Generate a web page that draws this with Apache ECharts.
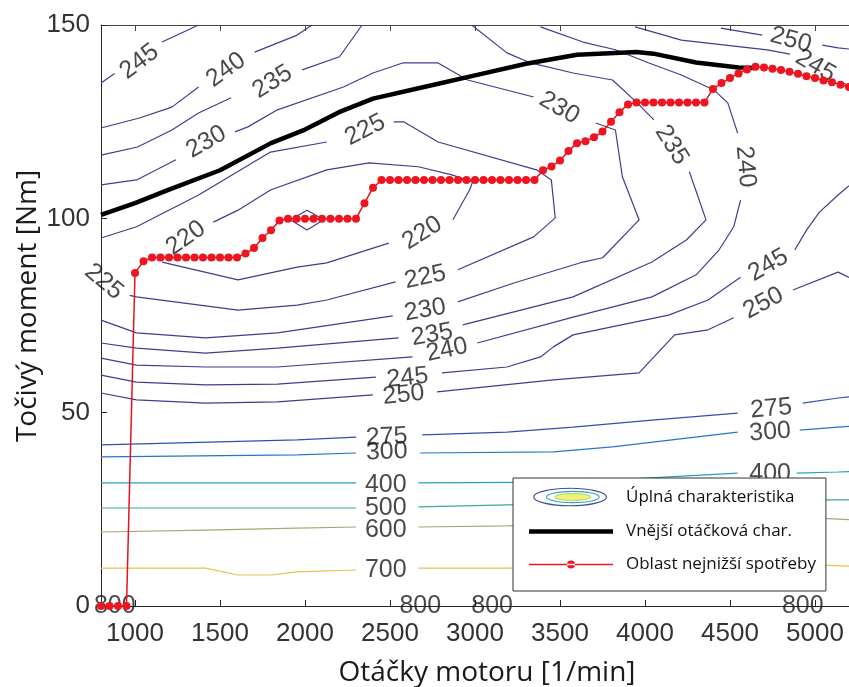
<!DOCTYPE html>
<html><head><meta charset="utf-8">
<script src="https://cdn.jsdelivr.net/npm/echarts@6/dist/echarts.min.js"></script>
<style>html,body{margin:0;padding:0;background:#fff}#c{width:849px;height:687px}</style>
</head><body><div id="c"></div>
<script>
// ---- axis ticks ----
const xTicks = [1000,1500,2000,2500,3000,3500,4000,4500,5000];
const yTicks = [0,50,100,150];

// ---- contour lines: segments of [rpm, Nm] (gaps where labels sit) ----
const c220 = [
  [[1461,99.1],[1606,102.2],[1797,107.4],[2128,112.6],[2377,114.4],[2667,113.4],[2864,111.3],[2986,109.5],[2968,107.4],[2870,99.7]],
  [[2493,93.7],[2128,88.6],[1954,87.5],[1606,84.2],[1159,88.8]],
  [[1913,99.7],[2012,102.2],[2110,99.7],[2012,97.1],[1913,99.7]]
];
const c225 = [
  [[800,95.0],[1009,97.9],[1374,106.1],[1797,117.2],[2128,119.8]],
  [[2522,125.0],[2580,125.0],[2783,119.8],[3362,112.6],[3449,110.0],[3472,100.2],[3345,95.3],[2899,86.8]],
  [[2533,83.7],[2128,79.0],[1954,77.7],[1606,76.4],[1009,79.8],[968,80.2]]
];
const c230 = [
  [[800,108.7],[1009,110.0],[1241,115.2]],
  [[1588,122.4],[1664,123.7],[1838,128.1],[2226,134.0],[2400,137.6],[2574,140.2],[2783,140.2],[2957,135.8],[3345,131.4]],
  [[3710,124.7],[3826,122.9],[3867,110.8],[3965,99.7],[3751,89.9],[3635,88.8],[3229,83.4],[2899,78.5]],
  [[2516,74.9],[1838,70.5],[1414,69.2],[1009,70.5],[800,73.8]]
];
const c235 = [
  [[800,116.4],[1015,118.5],[1217,122.9],[1374,127.3],[1565,131.2]],
  [[1983,138.4],[2203,141.8],[2336,150]],
  [[2980,150],[3188,142.8],[3327,140.2],[3577,137.6],[3809,135.8],[3954,129.9],[4052,125.5]],
  [[4261,112.1],[4359,99.7],[4243,94.5],[4041,88.8],[3577,79.8],[2928,72.6]],
  [[2551,69.2],[1838,66.6],[1414,65.3],[1009,66.6],[800,67.9]]
];
const c240 = [
  [[800,123.4],[1026,126.0],[1217,128.8],[1374,134.0]],
  [[1704,143.0],[1954,147.4],[2041,150]],
  [[3385,149.5],[3635,145.6],[3826,143.6],[4023,140.2],[4214,137.1],[4406,133.2],[4487,129.9],[4545,122.1]],
  [[4562,104.8],[4522,97.9],[4435,91.9],[4301,85.5],[4041,79.8],[3577,74.6],[3014,67.9]],
  [[2632,64.3],[1838,61.7],[1414,61.7],[1009,62.2],[800,64.0]]
];
const c245 = [
  [[800,135.0],[880,137.5]],
  [[1159,145.6],[1374,150]],
  [[3942,149.5],[4214,146.1],[4719,143.6],[4853,142.5]],
  [[5136,135.3],[5200,134.5]],
  [[5200,108.5],[5136,106.1],[5026,101.7],[4951,97.1],[4881,91.9]],
  [[4562,84.9],[4371,79.0],[4139,75.1],[3577,70.0],[3461,66.9],[3385,64.3],[3188,61.7],[2806,60.2]],
  [[2417,59.1],[1838,57.3],[1414,57.1],[1009,57.8],[800,59.6]]
];
const c250 = [
  [[4446,149.2],[4690,147.4]],
  [[5043,144.8],[5136,144.1],[5200,143.8]],
  [[5200,84.8],[5136,86.2],[4870,81.6]],
  [[4522,74.4],[4371,71.3],[4174,70.0],[3965,60.2],[3461,58.4],[2777,55.3]],
  [[2400,54.5],[1838,52.7],[1414,52.4],[1009,53.2],[800,55.0]]
];
const c275 = [
  [[800,41.6],[1954,42.9],[2301,43.6]],
  [[2690,44.2],[3188,44.9],[3577,46.2],[4041,48.0],[4545,49.8]],
  [[4928,52.4],[5136,53.7],[5200,54.0]]
];
const c300 = [
  [[800,38.5],[1954,39.0],[2301,39.5]],
  [[2678,39.5],[3461,39.8],[3809,41.1],[4545,44.9]],
  [[4910,45.4],[5136,46.2],[5200,46.4]]
];
const c400 = [
  [[800,31.8],[2301,31.8]],
  [[2667,31.8],[3577,32.0],[4545,34.3]],
  [[4893,34.3],[5136,34.6],[5200,34.7]]
];
const c500 = [
  [[800,25.3],[2301,25.3]],
  [[2667,25.6],[3188,26.1],[5014,27.4],[5200,27.4]]
];
const c600 = [
  [[800,19.1],[1414,19.6],[1954,20.1],[2301,20.4]],
  [[2667,20.4],[3188,20.7],[5014,22.7],[5200,22.3]]
];
const c700 = [
  [[800,9.8],[1414,9.8],[1606,8.0],[1797,8.0],[1954,8.8],[2301,9.3]],
  [[2667,9.8],[3188,9.8],[5014,10.6],[5200,10.3]]
];

// ---- contour labels: [rpm, Nm, text] and their angles ----
const contourLabels = [
  [1026,140.5,'245'],[1536,138.4,'240'],[1809,135.3,'235'],[1420,119.8,'230'],[2354,122.9,'225'],
  [1299,95.0,'220'],[2690,96.3,'220'],[817,83.7,'225'],[2707,84.9,'225'],[2707,76.4,'230'],
  [2748,70.0,'235'],[2835,66.1,'240'],[2603,58.9,'245'],[2580,54.5,'250'],[2481,43.6,'275'],
  [2481,39.8,'300'],[2475,31.2,'400'],[2475,25.3,'500'],[2475,19.6,'600'],[2475,9.3,'700'],
  [3496,128.6,'230'],[4157,119.0,'235'],[4591,113.4,'240'],[4858,146.1,'250'],[5003,139.4,'245'],
  [4725,88.0,'245'],[4696,78.2,'250'],[4742,50.9,'275'],[4736,44.9,'300'],[4736,34.1,'400'],
  [881,0,'800'],[2678,0,'800'],[3101,0,'800'],[4928,0,'800']
];
const labelAngles = [
  37,36,32,30,27,
  35,32,-40,12,10,
  10,12,6,6,3,
  2,0,0,0,0,
  -30,-58,-85,-15,-30,
  30,28,5,4,0,
  0,0,0,0
];

// ---- full-load curve ----
const blackLine = [[800,101],[1000,104],[1200,107.5],[1500,112.5],[1800,119.5],[2000,123],[2200,127.5],[2400,131],
  [2700,134],[3000,137],[3300,140],[3600,142.3],[3950,143],[4050,142.6],[4300,140.3],[4550,139],[4650,138.9]];

// ---- lowest consumption region ----
const redLine = [[800,0],[850,0],[900,0],[950,0],[1000,86],[1050,89],[1100,90],[1150,90],[1200,90],[1250,90],[1300,90],
  [1350,90],[1400,90],[1450,90],[1500,90],[1550,90],[1600,90],[1650,91],[1700,92.4],[1750,95],[1800,97],[1850,99.5],
  [1900,100],[1950,100],[2000,100],[2050,100],[2100,100],[2150,100],[2200,100],[2250,100],[2300,100],[2350,104],
  [2400,108],[2450,110],[2500,110],[2550,110],[2600,110],[2650,110],[2700,110],[2750,110],[2800,110],[2850,110],
  [2900,110],[2950,110],[3000,110],[3050,110],[3100,110],[3150,110],[3200,110],[3250,110],[3300,110],[3350,110],
  [3400,112.5],[3450,113.5],[3500,115],[3550,117.5],[3600,119.5],[3650,120],[3700,121],[3750,122.5],[3800,125],
  [3850,127.5],[3900,129.5],[3950,130],[4000,130],[4050,130],[4100,130],[4150,130],[4200,130],[4250,130],[4300,130],
  [4350,130],[4400,133.5],[4450,135],[4500,136.3],[4550,137.5],[4600,138.5],[4650,139.2],[4700,139],[4750,138.7],
  [4800,138.4],[4850,137.9],[4900,137.4],[4950,136.8],[5000,136.3],[5050,135.7],[5100,135.2],[5150,134.6],[5200,134]];

const legendNames = ['Úplná charakteristika','Vnější otáčková char.','Oblast nejnižší spotřeby'];

// ---- build ----
function joinSegs(segs){
  const out=[];
  segs.forEach((s,i)=>{ if(i) out.push(['-','-']); s.forEach(p=>out.push(p)); });
  return out;
}
const contourDefs = [
  [c220,'#3f3d8e'],[c225,'#3f3d8e'],[c230,'#3f3d8e'],[c235,'#3f3d8e'],[c240,'#3f3d8e'],[c245,'#3f3d8e'],[c250,'#3f3d8e'],
  [c275,'#2d50b4'],[c300,'#2a72d2'],[c400,'#24a0c2'],[c500,'#38aa9c'],[c600,'#a6a870'],[c700,'#e6c24a']
];
const series = contourDefs.map(([segs,col])=>({
  type:'line', name:legendNames[0], data:joinSegs(segs), symbol:'none', connectNulls:false,
  lineStyle:{color:col,width:1.2}, itemStyle:{color:col}, silent:true, z:2
}));
series.push({
  type:'scatter', name:'labels', symbolSize:0, silent:true, z:3,
  data: contourLabels.map((l,i)=>({value:[l[0],l[1]], label:{formatter:l[2], rotate:labelAngles[i]}})),
  label:{show:true, position:'inside', fontSize:25, fontFamily:'Liberation Sans', color:'#1a1a1a'}
});
series.push({
  type:'line', name:legendNames[1], data:blackLine, symbol:'none',
  lineStyle:{color:'#000',width:4.5}, itemStyle:{color:'#000'}, z:4
});
series.push({
  type:'line', name:legendNames[2], data:redLine, symbol:'circle', symbolSize:8, showSymbol:true,
  lineStyle:{color:'#e8121c',width:1.5}, itemStyle:{color:'#ee1420'}, z:5
});

const iconSvg = '<svg xmlns="http://www.w3.org/2000/svg" width="84" height="22" viewBox="0 0 84 22">'+
  '<ellipse cx="41" cy="11" rx="40" ry="9.6" fill="none" stroke="#3e4ea0" stroke-width="1.3"/>'+
  '<ellipse cx="44" cy="11" rx="29" ry="6.2" fill="none" stroke="#30a0c8" stroke-width="1.3"/>'+
  '<ellipse cx="44" cy="11" rx="20" ry="3.8" fill="#eef27a" stroke="#a8cc60" stroke-width="1"/></svg>';
const iconUrl = 'image://data:image/svg+xml;charset=utf-8,' + encodeURIComponent(iconSvg);
const blackIcon = 'path://M0,0h84v4.5h-84z';
const redIcon = 'path://M0,3.25h84v1.5h-84z M46,4a4,4 0 1,0 -8,0a4,4 0 1,0 8,0z';

const chart = echarts.init(document.getElementById('c'), null, {renderer:'canvas'});
chart.setOption({
  animation:false,
  backgroundColor:'#fff',
  grid:{left:101, top:25, width:759, height:581, containLabel:false},
  xAxis:[{
    type:'value', min:800, max:5200, position:'bottom',
    axisLine:{show:true, onZero:false, lineStyle:{color:'#262626', width:1}},
    axisTick:{show:true, inside:true, length:6, customValues:xTicks, lineStyle:{color:'#262626'}},
    axisLabel:{customValues:xTicks, margin:15, fontSize:26, fontFamily:'Liberation Sans', color:'#333', formatter:v=>String(v)},
    splitLine:{show:false}
  },{
    type:'value', min:800, max:5200, position:'top',
    axisLine:{show:true, onZero:false, lineStyle:{color:'#444', width:1}},
    axisTick:{show:true, inside:true, length:6, customValues:xTicks, lineStyle:{color:'#444'}},
    axisLabel:{show:false}, splitLine:{show:false}
  }],
  yAxis:{
    type:'value', min:0, max:150, interval:50,
    axisLine:{show:true, onZero:false, lineStyle:{color:'#262626', width:1}},
    axisTick:{show:true, inside:true, length:6, lineStyle:{color:'#262626'}},
    axisLabel:{margin:11, fontSize:26, fontFamily:'Liberation Sans', color:'#333', formatter:v=>String(v)},
    splitLine:{show:false}
  },
  legend:{
    left:513, top:478, orient:'vertical', padding:[9,10,18,16], itemGap:16, itemWidth:84, itemHeight:20,
    backgroundColor:'#fff', borderColor:'#333', borderWidth:1, selectedMode:false, z:10,
    textStyle:{fontFamily:'Open Sans', fontSize:17, color:'#111', padding:[0,0,0,8]},
    data:[{name:legendNames[0], icon:iconUrl},{name:legendNames[1], icon:blackIcon},{name:legendNames[2], icon:redIcon}]
  },
  graphic:[
    {type:'text', x:487, y:673, style:{text:'Otáčky motoru [1/min]', fontSize:28, fontFamily:'Open Sans', fill:'#1a1a1a', align:'center', verticalAlign:'middle'}},
    {type:'text', x:28, y:306, rotation:Math.PI/2, style:{text:'Točivý moment [Nm]', fontSize:28, fontFamily:'Open Sans', fill:'#1a1a1a', align:'center', verticalAlign:'middle'}}
  ],
  series:series
});
</script>
</body></html>
